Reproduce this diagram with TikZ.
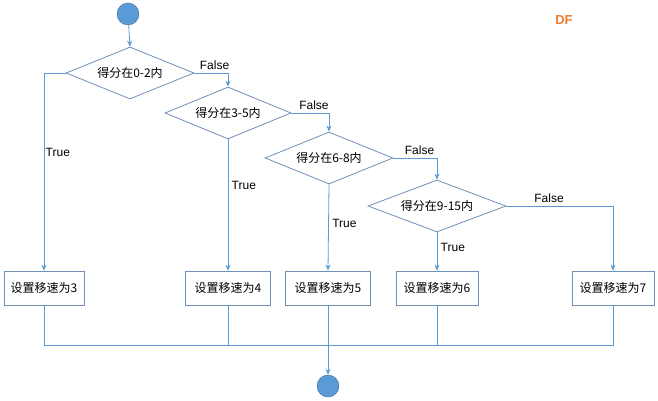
\documentclass[tikz,border=0pt]{standalone}
\usepackage{fontspec}
\setmainfont{Liberation Sans}
\newfontfamily\cjk{Noto Sans CJK SC}
\usetikzlibrary{shapes.geometric,arrows.meta}
\definecolor{ln}{HTML}{5B9BD5}
\definecolor{cf}{HTML}{5B9BD5}
\definecolor{co}{HTML}{41719C}
\definecolor{bx}{HTML}{6F8FB5}
\definecolor{df}{HTML}{ED7D31}
\begin{document}
\begin{tikzpicture}[x=1pt,y=-1pt,
  every node/.style={font=\cjk\fontsize{12}{14}\selectfont},
  circ/.style={circle,fill=cf,draw=co,minimum size=22pt,inner sep=0pt},
  dia/.style={diamond,draw=bx,line width=0.8pt,aspect=2.6,inner sep=0pt,minimum width=#1,minimum height=52pt},
  box/.style={draw=bx,line width=0.8pt,minimum height=34pt,inner sep=2pt,minimum width=#1},
  ar/.style={draw=ln,line width=0.8pt,-{Stealth[length=6pt,width=5pt]}},
  li/.style={draw=ln,line width=0.8pt},
  lab/.style={font=\fontsize{12}{14}\selectfont}]
\useasboundingbox (0,0) rectangle (658,401);
\node[circ] (s) at (128,14) {};
\node[circ] (e) at (328,386) {};
\node[font=\bfseries\fontsize{13}{15}\selectfont,text=df] (df) at (564,20) {DF};
\node[dia=128pt] (d1) at (130,73) {得分在0-2内};
\node[dia=126pt] (d2) at (228,113) {得分在3-5内};
\node[dia=128pt] (d3) at (329,158) {得分在6-8内};
\node[dia=138pt] (d4) at (437,206) {得分在9-15内};
\node[box=80pt] (b1) at (44,288) {设置移速为3};
\node[box=85pt] (b2) at (228,288) {设置移速为4};
\node[box=85pt] (b3) at (328,288) {设置移速为5};
\node[box=82pt] (b4) at (437,288) {设置移速为6};
\node[box=82pt] (b5) at (613,288) {设置移速为7};
\coordinate (m1) at (44,345);
\coordinate (m5) at (613,345);
\coordinate (m3) at (328,345);
\draw[ar] (s) -- (d1.north);
\draw[ar] (d1.west) -| (b1.north) node[lab,pos=0.7,right=-2pt] {True};
\draw[ar] (d1.east) -| (d2.north) node[lab,pos=0.3,above] {False};
\draw[ar] (d2.south) -- (b2.north) node[lab,pos=0.35,right] {True};
\draw[ar] (d2.east) -| (d3.north) node[lab,pos=0.3,above] {False};
\draw[ar] (d3.south) -- (b3.north) node[lab,pos=0.45,right] {True};
\draw[ar] (d3.east) -| (d4.north) node[lab,pos=0.3,above] {False};
\draw[ar] (d4.south) -- (b4.north) node[lab,pos=0.4,right] {True};
\draw[ar] (d4.east) -| (b5.north) node[lab,pos=0.2,above] {False};
\draw[li] (b1.south) -- (m1) -- (m5) -- (b5.south);
\draw[li] (b2.south) -- (b2.south |- m1);
\draw[li] (b3.south) -- (m3);
\draw[li] (b4.south) -- (b4.south |- m1);
\draw[ar] (m3) -- (e);
\end{tikzpicture}
\end{document}
